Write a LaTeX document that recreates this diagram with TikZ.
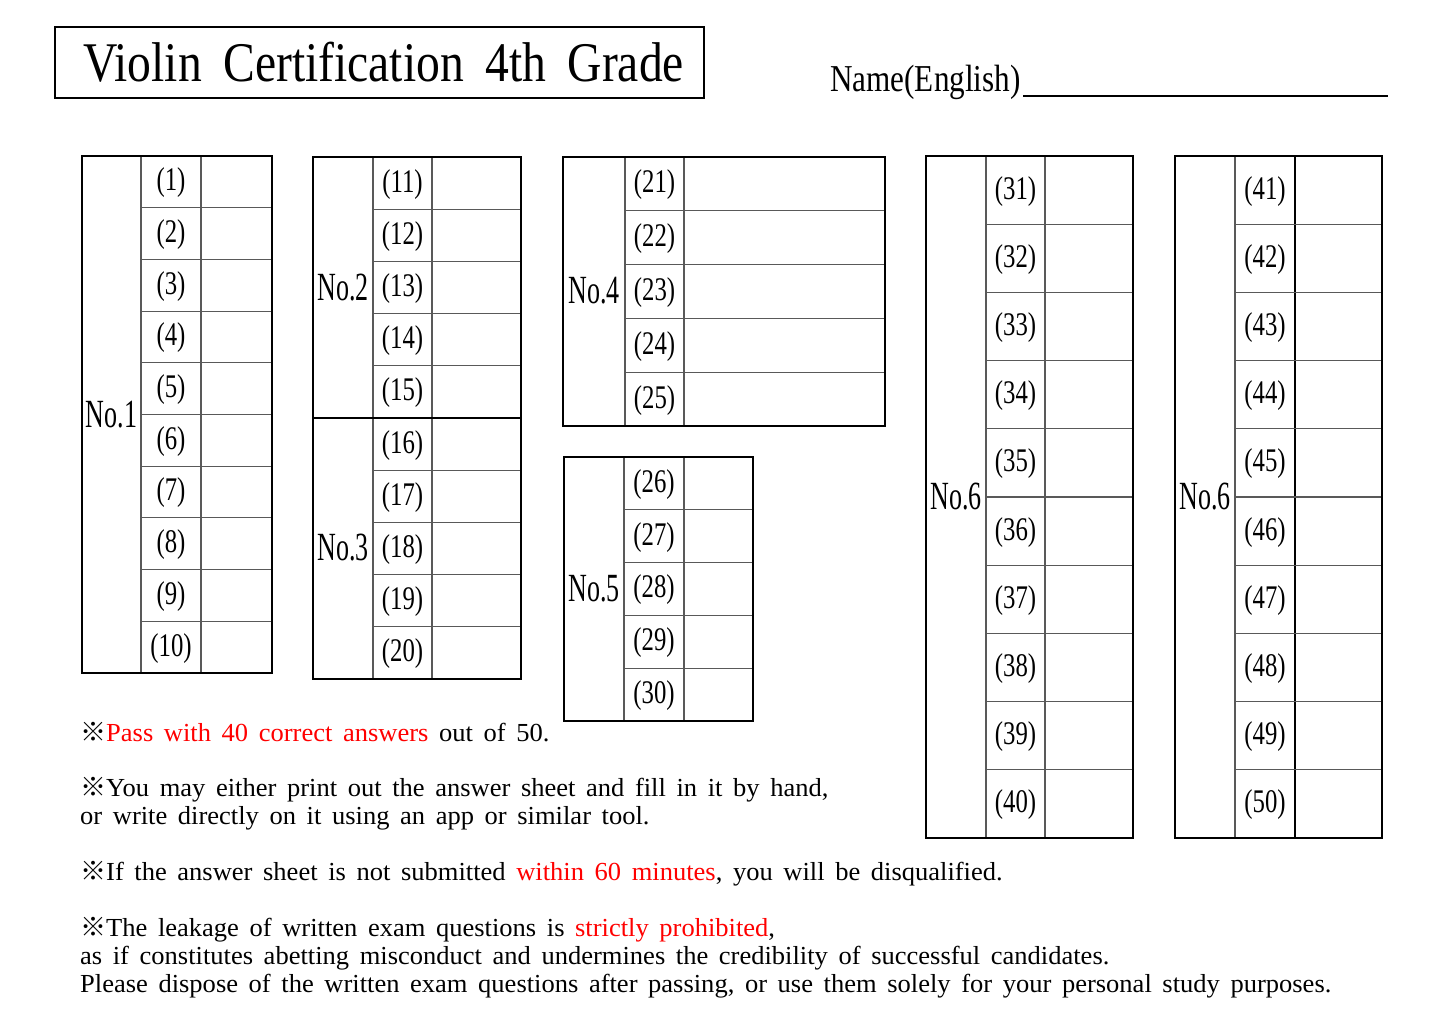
\documentclass[tikz,border=0pt]{standalone}
\usepackage{fontspec}
\setmainfont{Liberation Serif}
\newfontfamily\bodyfont[FakeStretch=1.02,WordSpace=1.6]{Liberation Serif}
\newfontfamily\titlefont[FakeStretch=0.85,WordSpace=1.8]{Liberation Serif}
\newfontfamily\namefont[FakeStretch=0.82]{Liberation Serif}
\newfontfamily\cellfont[FakeStretch=0.75]{Liberation Serif}
\newfontfamily\groupfont[FakeStretch=0.65]{Liberation Serif}
\newfontfamily\markfont{Noto Sans CJK JP}
\newcommand{\kome}{{\markfont ※}}

\begin{document}
\begin{tikzpicture}[x=1pt,y=-1pt,
    frame/.style={line width=2.8pt},
    grid/.style={line width=1.1pt, black!65},
    num/.style={font=\cellfont\fontsize{33}{33}\selectfont, inner sep=0pt},
    grp/.style={font=\groupfont\fontsize{40}{40}\selectfont, inner sep=0pt},
    note/.style={font=\bodyfont\fontsize{26}{28}\selectfont, anchor=base west, inner sep=0pt}]
    \useasboundingbox[fill=white] (0,0) rectangle (1445,1022);
    % title and name
    \draw[frame] (55,27) rectangle (704,98);
    \node[anchor=base west, inner sep=0pt, font=\titlefont\fontsize{56}{56}\selectfont] (title) at (83,82) {Violin Certification 4th Grade};
    \node[anchor=base west, inner sep=0pt, font=\namefont\fontsize{38}{38}\selectfont] (name) at (830,92) {Name(English)};
    \coordinate (N1) at (1023,96);
    \coordinate (N2) at (1388,96);
    \draw[line width=2pt] (N1) -- (N2);
    % No.1
    \draw[grid] (141,156) -- (141,673) (201,156) -- (201,673);
    \foreach \i in {1,...,9} \draw[grid] (141,{156+51.7*\i}) -- (272,{156+51.7*\i});
    \foreach \i in {1,...,10} \node[num] (q\i) at (171,{157+51.7*(\i-0.5)}) {(\i)};
    \draw[frame] (82,156) rectangle (272,673);
    \node[grp] (g1) at (111.5,414.5) {No.1};
    % No.2 and No.3
    \draw[grid] (373,157) -- (373,679) (432,157) -- (432,679);
    \foreach \i in {1,...,9} \draw[grid] (373,{157+52.2*\i}) -- (521,{157+52.2*\i});
    \foreach \i in {11,...,20} \node[num] (q\i) at (402.5,{158+52.2*(\i-10.5)}) {(\i)};
    \draw[frame] (313,157) rectangle (521,679);
    \draw[frame] (313,418) -- (521,418);
    \node[grp] (g2) at (343,288) {No.2};
    \node[grp] (g3) at (343,548) {No.3};
    % No.4
    \draw[grid] (625,157) -- (625,426) (684,157) -- (684,426);
    \foreach \i in {1,...,4} \draw[grid] (625,{157+53.8*\i}) -- (885,{157+53.8*\i});
    \foreach \i in {21,...,25} \node[num] (q\i) at (654.5,{158+53.8*(\i-20.5)}) {(\i)};
    \draw[frame] (563,157) rectangle (885,426);
    \node[grp] (g4) at (594,291) {No.4};
    % No.5
    \draw[grid] (624,457) -- (624,721) (684,457) -- (684,721);
    \foreach \i in {1,...,4} \draw[grid] (624,{457+52.8*\i}) -- (753,{457+52.8*\i});
    \foreach \i in {26,...,30} \node[num] (q\i) at (654,{458+52.8*(\i-25.5)}) {(\i)};
    \draw[frame] (564,457) rectangle (753,721);
    \node[grp] (g5) at (594,589) {No.5};
    % No.6 left
    \draw[grid] (986,156) -- (986,838) (1045,156) -- (1045,838);
    \foreach \i in {1,...,9} \draw[grid] (986,{156+68.2*\i}) -- (1133,{156+68.2*\i});
    \foreach \i in {31,...,40} \node[num] (q\i) at (1015.5,{157+68.2*(\i-30.5)}) {(\i)};
    \draw[frame] (926,156) rectangle (1133,838);
    \node[grp] (g6) at (956,497) {No.6};
    % No.6 right
    \draw[grid] (1235,156) -- (1235,838);
    \draw[line width=1.1pt] (1295,156) -- (1295,838);
    \foreach \i in {1,...,9} \draw[grid] (1235,{156+68.2*\i}) -- (1382,{156+68.2*\i});
    \foreach \i in {41,...,50} \node[num] (q\i) at (1265,{157+68.2*(\i-40.5)}) {(\i)};
    \draw[frame] (1175,156) rectangle (1382,838);
    \node[grp] (g7) at (1205,497) {No.6};
    % notes
    \node[note] (n1) at (80,741) {\kome\textcolor{red}{Pass with 40 correct answers} out of 50.};
    \node[note] (n2) at (80,796) {\kome You may either print out the answer sheet and fill in it by hand,};
    \node[note] (n3) at (80,824) {or write directly on it using an app or similar tool.};
    \node[note] (n4) at (80,880) {\kome If the answer sheet is not submitted \textcolor{red}{within 60 minutes}, you will be disqualified.};
    \node[note] (n5) at (80,936) {\kome The leakage of written exam questions is \textcolor{red}{strictly prohibited},};
    \node[note] (n6) at (80,964) {as if constitutes abetting misconduct and undermines the credibility of successful candidates.};
    \node[note] (n7) at (80,992) {Please dispose of the written exam questions after passing, or use them solely for your personal study purposes.};
\end{tikzpicture}
\end{document}
